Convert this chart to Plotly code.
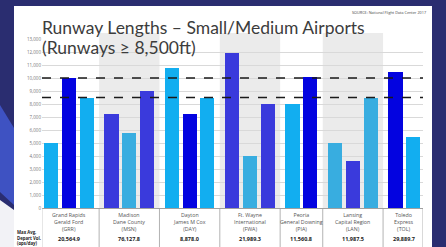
import plotly.graph_objects as go

# ---------------- data ----------------
airports = [
    "Grand Rapids<br>Gerald Ford<br>(GRR)",
    "Madison<br>Dane County<br>(MSN)",
    "Dayton<br>James M Cox<br>(DAY)",
    "Ft. Wayne<br>International<br>(FWA)",
    "Peoria<br>General Downing<br>(PIA)",
    "Lansing<br>Capital Region<br>(LAN)",
    "Toledo<br>Express<br>(TOL)",
]
runways_grr = [5000, 10000, 8500]
runways_msn = [7200, 5800, 9000]
runways_day = [10800, 7250, 8500]
runways_fwa = [11950, 4000, 8000]
runways_pia = [8000, 10100]
runways_lan = [5000, 3600, 8500]
runways_tol = [10500, 5500]
depart_vol = ["20,564.9", "76,127.8", "8,878.0", "21,989.3", "11,560.8", "11,987.5", "29,889.7"]
thresholds = [10000, 8500]
y_ticks = list(range(0, 13001, 1000))
title_1 = "Runway Lengths – Small/Medium Airports"
title_2 = "(Runways ≥ 8,500ft)"
source = "SOURCE: National Flight Data Center 2017"
row_label = "Max Avg.<br>Depart Vol.<br>(ops/day)"

# ---------------- styles ----------------
LIGHT = "#12aef0"
DULL = "#38ade0"
BLUE = "#0303e0"
INDIGO = "#3a3adc"
styles = [
    [LIGHT, BLUE, LIGHT],
    [INDIGO, DULL, INDIGO],
    [LIGHT, BLUE, LIGHT],
    [INDIGO, DULL, INDIGO],
    [LIGHT, BLUE],
    [DULL, INDIGO, DULL],
    [BLUE, LIGHT],
]
shaded = [False, True, False, True, False, True, False]

groups = [runways_grr, runways_msn, runways_day, runways_fwa, runways_pia, runways_lan, runways_tol]

W, H = 446, 247
PL, PR, PT, PB = 42, 423, 39, 208  # plot area in pixels
GAP = 0.4


def px(x):
    return (x - PL) / (PR - PL)


def py(y):
    return (PB - y) / (PB - PT)


# positions computed from group structure
xs, ys, cs = [], [], []
centers, bounds = [], []
k = 0
for g, vals in enumerate(groups):
    start = k + GAP * g
    for i, v in enumerate(vals):
        xs.append(start + i)
        ys.append(v)
        cs.append(styles[g][i])
    end = start + len(vals) - 1
    centers.append((start + end) / 2)
    bounds.append((start - 0.7, end + 0.7))
    k += len(vals)

x_lo = xs[0] - 0.52
x_hi = xs[-1] + 0.55
bounds[0] = (x_lo, bounds[0][1])
bounds[-1] = (bounds[-1][0], x_hi)

fig = go.Figure()
fig.add_trace(go.Bar(x=xs, y=ys, width=0.8, marker=dict(color=cs, line=dict(width=0)),
                     showlegend=False, hoverinfo="y"))

shapes = []
# slide background panel
shapes.append(dict(type="rect", xref="paper", yref="paper", x0=px(14), x1=px(432), y0=py(6), y1=py(247),
                   fillcolor="white", line=dict(width=0), layer="below"))
# swoosh on left strip
shapes.append(dict(type="path", xref="paper", yref="paper",
                   path=f"M {px(0)},{py(105)} L {px(14)},{py(128)} L {px(14)},{py(205)} L {px(0)},{py(192)} Z",
                   fillcolor="#3e52c2", line=dict(width=0), layer="below"))
shapes.append(dict(type="path", xref="paper", yref="paper",
                   path=f"M {px(0)},{py(200)} L {px(14)},{py(210)} L {px(14)},{py(247)} L {px(0)},{py(247)} Z",
                   fillcolor="#f2f2f6", line=dict(width=0), layer="below"))
# shaded bands
for (b0, b1), s in zip(bounds, shaded):
    if s:
        shapes.append(dict(type="rect", xref="x", yref="paper", x0=b0, x1=b1, y0=0, y1=py(33),
                           fillcolor="#ebebeb", line=dict(width=0), layer="below"))
# threshold lines
for t in thresholds:
    shapes.append(dict(type="line", xref="x", yref="y", x0=x_lo, x1=x_hi, y0=t, y1=t,
                       line=dict(color="#1a1a1a", width=1.4, dash="dash"), layer="above"))
# table dividers
for i, (b0, b1) in enumerate(bounds):
    shapes.append(dict(type="line", xref="x", yref="paper", x0=b1, x1=b1, y0=0, y1=py(247),
                       line=dict(color="#a0a0a0", width=0.8)))
shapes.append(dict(type="line", xref="x", yref="paper", x0=x_lo, x1=x_lo, y0=0, y1=py(247),
                   line=dict(color="#c0c0c0", width=0.8)))

annotations = []
for c, name, v in zip(centers, airports, depart_vol):
    annotations.append(dict(x=c, y=py(209), xref="x", yref="paper", text=name, showarrow=False,
                            xanchor="center", yanchor="top",
                            font=dict(size=5.3, color="#555555", family="Open Sans")))
    annotations.append(dict(x=c, y=py(239), xref="x", yref="paper", text=f"<b>{v}</b>", showarrow=False,
                            xanchor="center", yanchor="middle",
                            font=dict(size=5.5, color="#222222", family="Open Sans")))
annotations.append(dict(x=px(15), y=py(237), xref="paper", yref="paper", text=f"<b>{row_label}</b>",
                        showarrow=False, xanchor="left", yanchor="middle", align="left",
                        font=dict(size=4.3, color="#222222", family="Open Sans")))
annotations.append(dict(x=px(40), y=py(28), xref="paper", yref="paper", text=title_1, showarrow=False,
                        xanchor="left", yanchor="middle", font=dict(size=17.5, color="#3c3c3c", family="Lato")))
annotations.append(dict(x=px(40), y=py(47), xref="paper", yref="paper", text=title_2, showarrow=False,
                        xanchor="left", yanchor="middle", font=dict(size=17.5, color="#3c3c3c", family="Lato")))
annotations.append(dict(x=px(428), y=py(12), xref="paper", yref="paper", text=source, showarrow=False,
                        xanchor="right", yanchor="middle", font=dict(size=3.8, color="#444444", family="Open Sans")))

fig.update_layout(
    width=W, height=H, autosize=False,
    margin=dict(l=PL, r=W - PR, t=PT, b=H - PB, pad=0),
    paper_bgcolor="#2a2d70", plot_bgcolor="rgba(0,0,0,0)",
    shapes=shapes, annotations=annotations,
    bargap=0, showlegend=False,
    xaxis=dict(range=[x_lo, x_hi], showticklabels=False, showgrid=False, zeroline=False,
               showline=True, linecolor="#a0a0a0", linewidth=1, ticks=""),
    yaxis=dict(range=[0, 13000], tickvals=y_ticks, tickformat=",", showgrid=True, gridcolor="#d9d9d9",
               gridwidth=0.8, zeroline=False, showline=False, ticks="",
               tickfont=dict(size=4.5, color="#777777", family="Open Sans")),
)

fig.write_html("out.html", config={"displayModeBar": False},
               post_script="document.body.style.margin='0';document.body.style.overflow='hidden';")
